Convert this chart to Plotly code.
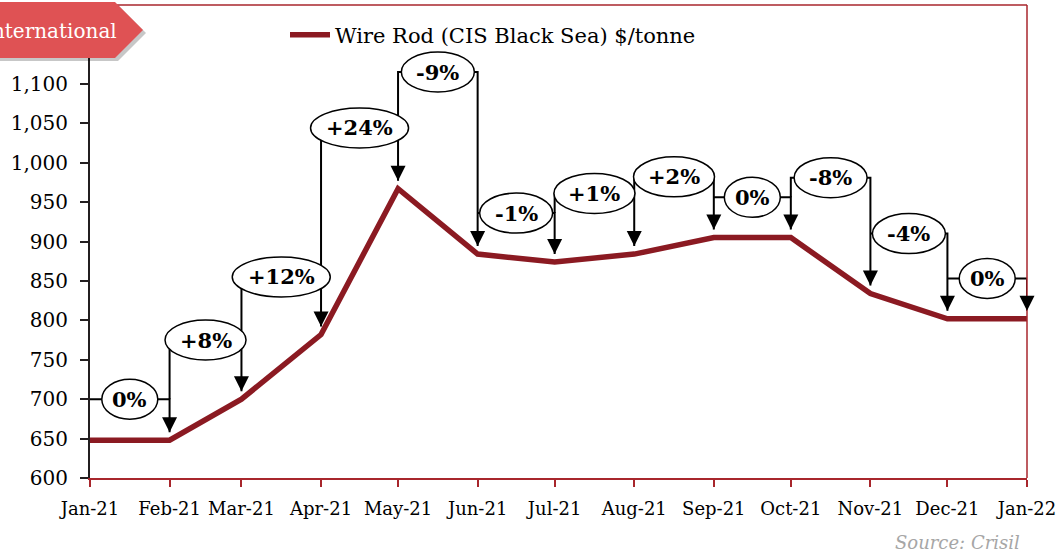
import plotly.graph_objects as go
import pandas as pd

# ---------------- data ----------------
months = ["Jan-21", "Feb-21", "Mar-21", "Apr-21", "May-21", "Jun-21", "Jul-21",
          "Aug-21", "Sep-21", "Oct-21", "Nov-21", "Dec-21", "Jan-22"]
dates = ["2021-01-01", "2021-02-01", "2021-03-01", "2021-04-01", "2021-05-01",
         "2021-06-01", "2021-07-01", "2021-08-01", "2021-09-01", "2021-10-01",
         "2021-11-01", "2021-12-01", "2022-01-01"]
prices = [648, 648, 700, 782, 967, 884, 874, 884, 905, 905, 834, 802, 802]
changes = ["0%", "+8%", "+12%", "+24%", "-9%", "-1%", "+1%", "+2%", "0%",
           "-8%", "-4%", "0%"]
label_levels = [700, 775, 855, 1044, 1115, 936, 961, 982, 956, 981, 910, 853]
y_ticks = list(range(600, 1201, 50))
series_name = "Wire Rod (CIS Black Sea) $/tonne"

# ---------------- layout constants ----------------
W, H = 1060, 555
ML, MR, MT, MB = 90, 33, 5, 77
PW, PH = W - ML - MR, H - MT - MB
YMIN, YMAX = 600, 1200
FONT = "DejaVu Serif"
RED = "#8B1A22"
AXRED = "#A8262C"
DARK = "#231F20"


def px(x):
    return (x - ML) / PW


def py(y):
    return (H - MB - y) / PH


gap = 8 * (YMAX - YMIN) / PH  # 8 px gap above point, in data units

fig = go.Figure()

fig.add_trace(go.Scatter(
    x=dates, y=prices, mode="lines", name=series_name,
    line=dict(color=RED, width=5.5), hoverinfo="skip"))

# bracket connector lines
bx, by = [], []
for i in range(len(changes)):
    L = label_levels[i]
    start = L
    if i > 0 and label_levels[i - 1] < L:
        start = label_levels[i - 1]
    bx += [dates[i], dates[i], dates[i + 1], dates[i + 1], None]
    by += [start, L, L, prices[i + 1] + gap, None]
fig.add_trace(go.Scatter(
    x=bx, y=by, mode="lines", showlegend=False, hoverinfo="skip",
    line=dict(color="black", width=2)))

shapes = []
annotations = []
for i, t in enumerate(changes):
    d0, d1 = pd.Timestamp(dates[i]), pd.Timestamp(dates[i + 1])
    mid = (d0 + (d1 - d0) / 2).strftime("%Y-%m-%d %H:%M:%S")
    w = 22 + 17 * len(t) + (8 if "+" in t else 0)
    h = 40
    shapes.append(dict(
        type="circle", xref="x", yref="y", xsizemode="pixel", ysizemode="pixel",
        xanchor=mid, yanchor=label_levels[i], x0=-w / 2, x1=w / 2,
        y0=-h / 2, y1=h / 2, fillcolor="white",
        line=dict(color="black", width=1.5), layer="above"))
    annotations.append(dict(
        x=mid, y=label_levels[i], xref="x", yref="y", text="<b>%s</b>" % t,
        showarrow=False, font=dict(family=FONT, size=21, color="black"),
        xanchor="center", yanchor="middle"))
    annotations.append(dict(
        x=dates[i + 1], y=prices[i + 1], xref="x", yref="y", text="",
        showarrow=True, ax=0, ay=-24, standoff=8, arrowhead=2,
        arrowsize=1.5, arrowwidth=2, arrowcolor="black"))

# top and right frame
shapes.append(dict(type="line", xref="paper", yref="paper", x0=0, x1=1, y0=1, y1=1,
                   line=dict(color=AXRED, width=1.5), layer="above"))
shapes.append(dict(type="line", xref="paper", yref="paper", x0=1, x1=1, y0=0, y1=1,
                   line=dict(color=AXRED, width=1.5), layer="above"))

# "International" tag with shadow
def poly(pts):
    return "M " + " L ".join("%f,%f" % (px(a), py(b)) for a, b in pts) + " Z"

tag = [(-6, 2), (115, 2), (143, 30), (115, 58), (-6, 58)]
shadow = [(a + 3, b + 3) for a, b in tag]
shapes.append(dict(type="path", xref="paper", yref="paper", path=poly(shadow),
                   fillcolor="rgba(0,0,0,0.22)", line=dict(width=0), layer="above"))
shapes.append(dict(type="path", xref="paper", yref="paper", path=poly(tag),
                   fillcolor="#DF5254", line=dict(width=0), layer="above"))
annotations.append(dict(
    x=px(119), y=py(31), xref="paper", yref="paper", text="International",
    showarrow=False, xanchor="right", yanchor="middle",
    font=dict(family=FONT, size=20, color="white")))

annotations.append(dict(
    x=px(1022), y=py(542), xref="paper", yref="paper",
    text="<i>Source: Crisil</i>", showarrow=False, xanchor="right",
    yanchor="middle", font=dict(family=FONT, size=18, color="#A6A6A6")))

fig.update_layout(
    width=W, height=H,
    margin=dict(l=ML, r=MR, t=MT, b=MB, pad=0, autoexpand=False),
    paper_bgcolor="white", plot_bgcolor="white",
    font=dict(family=FONT, color="black"),
    shapes=shapes, annotations=annotations,
    showlegend=True,
    legend=dict(x=px(285), y=py(35), xanchor="left", yanchor="middle",
                itemwidth=40,
                bgcolor="rgba(0,0,0,0)", font=dict(family=FONT, size=21)),
    xaxis=dict(type="date", range=[dates[0], dates[-1]], tickvals=dates,
               ticktext=months, ticks="outside", ticklen=7, tickwidth=1.5,
               tickcolor=AXRED, showline=True, linecolor=AXRED, linewidth=2,
               showgrid=False, zeroline=False, tickfont=dict(size=18),
               tickangle=0, automargin=False,
               ticklabelstandoff=6, fixedrange=True),
    yaxis=dict(range=[YMIN, YMAX], tickvals=y_ticks, tickformat=",d",
               ticks="outside", ticklen=8, tickwidth=1.5, tickcolor=DARK,
               showline=True, linecolor=DARK, linewidth=2, showgrid=False,
               zeroline=False, tickfont=dict(size=20), ticklabelstandoff=8,
               automargin=False, fixedrange=True),
)

fig.write_html("out.html", config={"displayModeBar": False},
               post_script="document.body.style.margin='0';"
                           "document.body.style.overflow='hidden';")
